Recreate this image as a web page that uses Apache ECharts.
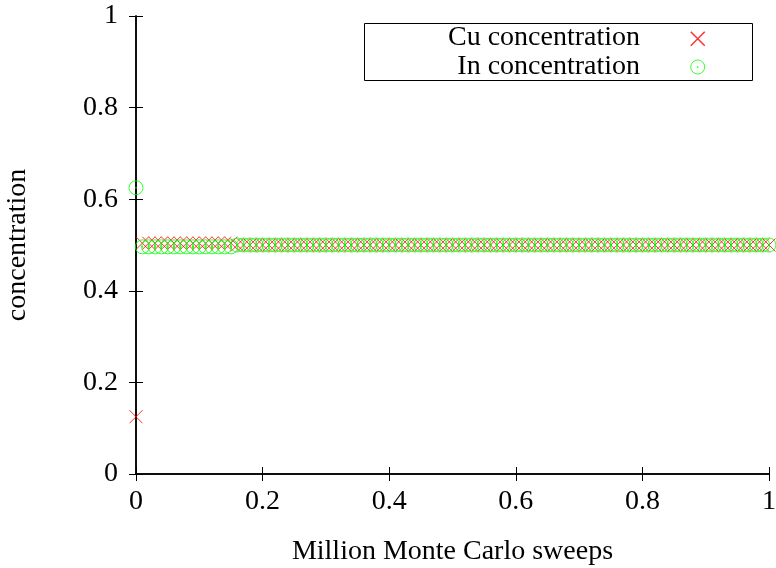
<!DOCTYPE html>
<html>
<head>
<meta charset="utf-8">
<script src="https://cdn.jsdelivr.net/npm/echarts@6/dist/echarts.min.js"></script>
<style>html,body{margin:0;padding:0;background:#fff;}#c{width:776px;height:568px;}</style>
</head>
<body>
<div id="c"></div>
<script>
var sweeps = [
  0.00, 0.01, 0.02, 0.03, 0.04, 0.05, 0.06, 0.07, 0.08, 0.09,
  0.10, 0.11, 0.12, 0.13, 0.14, 0.15, 0.16, 0.17, 0.18, 0.19,
  0.20, 0.21, 0.22, 0.23, 0.24, 0.25, 0.26, 0.27, 0.28, 0.29,
  0.30, 0.31, 0.32, 0.33, 0.34, 0.35, 0.36, 0.37, 0.38, 0.39,
  0.40, 0.41, 0.42, 0.43, 0.44, 0.45, 0.46, 0.47, 0.48, 0.49,
  0.50, 0.51, 0.52, 0.53, 0.54, 0.55, 0.56, 0.57, 0.58, 0.59,
  0.60, 0.61, 0.62, 0.63, 0.64, 0.65, 0.66, 0.67, 0.68, 0.69,
  0.70, 0.71, 0.72, 0.73, 0.74, 0.75, 0.76, 0.77, 0.78, 0.79,
  0.80, 0.81, 0.82, 0.83, 0.84, 0.85, 0.86, 0.87, 0.88, 0.89,
  0.90, 0.91, 0.92, 0.93, 0.94, 0.95, 0.96, 0.97, 0.98, 0.99,
  1.00
];
var cuConc = [
  0.125, 0.504, 0.504, 0.504, 0.504, 0.504, 0.504, 0.504, 0.504, 0.504,
  0.504, 0.504, 0.504, 0.504, 0.504, 0.504, 0.5, 0.5, 0.5, 0.5,
  0.5, 0.5, 0.5, 0.5, 0.5, 0.5, 0.5, 0.5, 0.5, 0.5,
  0.5, 0.5, 0.5, 0.5, 0.5, 0.5, 0.5, 0.5, 0.5, 0.5,
  0.5, 0.5, 0.5, 0.5, 0.5, 0.5, 0.5, 0.5, 0.5, 0.5,
  0.5, 0.5, 0.5, 0.5, 0.5, 0.5, 0.5, 0.5, 0.5, 0.5,
  0.5, 0.5, 0.5, 0.5, 0.5, 0.5, 0.5, 0.5, 0.5, 0.5,
  0.5, 0.5, 0.5, 0.5, 0.5, 0.5, 0.5, 0.5, 0.5, 0.5,
  0.5, 0.5, 0.5, 0.5, 0.5, 0.5, 0.5, 0.5, 0.5, 0.5,
  0.5, 0.5, 0.5, 0.5, 0.5, 0.5, 0.5, 0.5, 0.5, 0.5,
  0.5
];
var inConc = [
  0.625, 0.496, 0.496, 0.496, 0.496, 0.496, 0.496, 0.496, 0.496, 0.496,
  0.496, 0.496, 0.496, 0.496, 0.496, 0.496, 0.5, 0.5, 0.5, 0.5,
  0.5, 0.5, 0.5, 0.5, 0.5, 0.5, 0.5, 0.5, 0.5, 0.5,
  0.5, 0.5, 0.5, 0.5, 0.5, 0.5, 0.5, 0.5, 0.5, 0.5,
  0.5, 0.5, 0.5, 0.5, 0.5, 0.5, 0.5, 0.5, 0.5, 0.5,
  0.5, 0.5, 0.5, 0.5, 0.5, 0.5, 0.5, 0.5, 0.5, 0.5,
  0.5, 0.5, 0.5, 0.5, 0.5, 0.5, 0.5, 0.5, 0.5, 0.5,
  0.5, 0.5, 0.5, 0.5, 0.5, 0.5, 0.5, 0.5, 0.5, 0.5,
  0.5, 0.5, 0.5, 0.5, 0.5, 0.5, 0.5, 0.5, 0.5, 0.5,
  0.5, 0.5, 0.5, 0.5, 0.5, 0.5, 0.5, 0.5, 0.5, 0.5,
  0.5
];
var seriesNames = ['Cu concentration', 'In concentration'];
var xTitle = 'Million Monte Carlo sweeps';
var yTitle = 'concentration';

var FONT = 'Liberation Serif';
var RED = '#ff0000', GREEN = '#00ff00';
var crossPath = 'path://M0,0L10,10M10,0L0,10';
var dotCirclePath = 'path://M14,7A7,7,0,1,1,0,7A7,7,0,1,1,14,7ZM7.5,7A0.5,0.5,0,1,1,6.5,7A0.5,0.5,0,1,1,7.5,7Z';
var FS = 28;

function pairs(xs, ys) { return xs.map(function (x, i) { return [x, ys[i]]; }); }

var axisCommon = {
  min: 0, max: 1, interval: 0.2,
  axisLine: { show: true, lineStyle: { color: '#000', width: 1.5 } },
  axisTick: { show: true, inside: true, length: 7, lineStyle: { color: '#000', width: 1 } },
  splitLine: { show: false }
};
function ax(extra) { return Object.assign({}, JSON.parse(JSON.stringify(axisCommon)), extra); }

var chart = echarts.init(document.getElementById('c'), null, { renderer: 'canvas' });
chart.setOption({
  animation: false,
  backgroundColor: '#fff',
  grid: { left: 136, right: 7, top: 16, bottom: 94, containLabel: false, outerBoundsMode: 'none' },
  legend: {
    show: true, orient: 'vertical', left: 690, top: 31, padding: 0,
    itemWidth: 14, itemHeight: 14, itemGap: 13,
    formatter: function () { return ''; },
    textStyle: { fontSize: 1 }, selectedMode: false,
    data: [
      { name: seriesNames[0], icon: crossPath,
        itemStyle: { color: 'rgba(0,0,0,0)', borderColor: RED, borderWidth: 1.5 } },
      { name: seriesNames[1], icon: dotCirclePath,
        itemStyle: { color: 'rgba(0,0,0,0)', borderColor: GREEN, borderWidth: 1 } }
    ],
    z: 110
  },
  xAxis: [
    ax({ type: 'value', position: 'bottom',
      name: xTitle, nameLocation: 'middle', nameGap: 64,
      nameTextStyle: { fontFamily: FONT, fontSize: FS, color: '#000' },
      axisLabel: { fontFamily: FONT, fontSize: FS, color: '#000', margin: 14 } }),
    ax({ type: 'value', position: 'top', axisLabel: { show: false } })
  ],
  yAxis: [
    ax({ type: 'value', position: 'left',
      name: yTitle, nameLocation: 'middle', nameGap: 104, nameRotate: 90,
      nameTextStyle: { fontFamily: FONT, fontSize: FS, color: '#000' },
      axisLabel: { fontFamily: FONT, fontSize: FS, color: '#000', margin: 18 } }),
    ax({ type: 'value', position: 'right', axisLabel: { show: false } })
  ],
  series: [
    { name: seriesNames[0], type: 'scatter', xAxisIndex: 0, yAxisIndex: 0,
      data: pairs(sweeps, cuConc), symbol: crossPath, symbolSize: 13,
      itemStyle: { color: 'rgba(0,0,0,0)', borderColor: RED, borderWidth: 1 }, clip: false, z: 2 },
    { name: seriesNames[1], type: 'scatter', xAxisIndex: 0, yAxisIndex: 0,
      data: pairs(sweeps, inConc), symbol: dotCirclePath, symbolSize: 14,
      itemStyle: { color: 'rgba(0,0,0,0)', borderColor: GREEN, borderWidth: 1 }, clip: false, z: 3 }
  ],
  graphic: [
    { type: 'rect', left: 364, top: 23, shape: { width: 388, height: 57 },
      style: { fill: '#fff', stroke: '#000', lineWidth: 1 }, z: 100 },
    { type: 'text', x: 640, y: 38, z: 101,
      style: { text: seriesNames[0], fontFamily: FONT, fontSize: FS, fill: '#000', align: 'right', verticalAlign: 'middle' } },
    { type: 'text', x: 640, y: 67, z: 101,
      style: { text: seriesNames[1], fontFamily: FONT, fontSize: FS, fill: '#000', align: 'right', verticalAlign: 'middle' } }
  ]
});
</script>
</body>
</html>
